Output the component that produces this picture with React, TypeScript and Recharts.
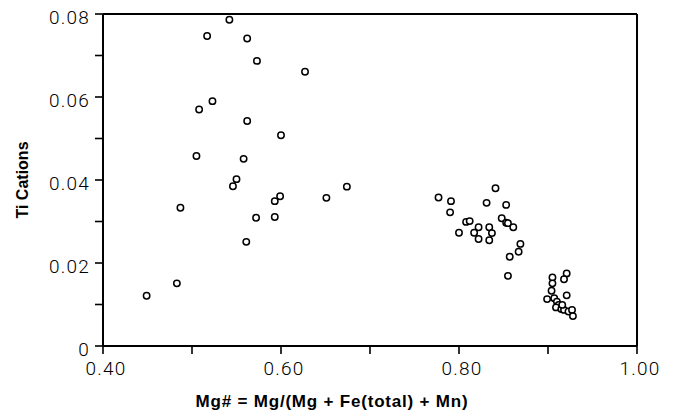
import {
  ReferenceLine,
  Scatter,
  ScatterChart,
  XAxis,
  YAxis,
  Label,
} from "recharts"

// Mg# = Mg/(Mg + Fe(total) + Mn)
const mgNumber = [
  0.542, 0.517, 0.562, 0.573, 0.627, 0.523, 0.508, 0.562, 0.6, 0.505, 0.558,
  0.55, 0.546, 0.599, 0.593, 0.651, 0.674, 0.487, 0.572, 0.593, 0.561, 0.483,
  0.449,
  0.777, 0.791, 0.79, 0.841, 0.831, 0.853, 0.808, 0.812, 0.8, 0.822, 0.817,
  0.822, 0.834, 0.837, 0.834, 0.848, 0.853, 0.855, 0.861, 0.869, 0.867, 0.857,
  0.855,
  0.905, 0.905, 0.904, 0.899, 0.921, 0.918, 0.921, 0.907, 0.91, 0.912, 0.909,
  0.915, 0.918, 0.923, 0.927, 0.928, 0.916,
]

// Ti cations
const tiCations = [
  0.0786, 0.0747, 0.0741, 0.0687, 0.0661, 0.059, 0.057, 0.0542, 0.0508, 0.0458,
  0.0451, 0.0402, 0.0385, 0.0361, 0.0349, 0.0357, 0.0384, 0.0333, 0.0309,
  0.0311, 0.0251, 0.0151, 0.0121,
  0.0358, 0.0349, 0.0322, 0.038, 0.0345, 0.034, 0.0299, 0.0301, 0.0273, 0.0286,
  0.0273, 0.0258, 0.0286, 0.0272, 0.0255, 0.0308, 0.0297, 0.0296, 0.0286,
  0.0246, 0.0227, 0.0215, 0.0169,
  0.0165, 0.0151, 0.0133, 0.0113, 0.0175, 0.0161, 0.0122, 0.0115, 0.0107,
  0.0099, 0.0093, 0.0089, 0.0087, 0.0083, 0.0087, 0.0072, 0.0099,
]

const xTicks = [0.4, 0.5, 0.6, 0.7, 0.8, 0.9, 1.0]
const xTickLabels = ["0.40", "", "0.60", "", "0.80", "", "1.00"]
const yTicks = [0, 0.01, 0.02, 0.03, 0.04, 0.05, 0.06, 0.07, 0.08]
const yTickLabels = ["0", "", "0.02", "", "0.04", "", "0.06", "", "0.08"]

const data = mgNumber.map((mg, i) => ({ mg, ti: tiCations[i] }))

const tickFont = {
  fontFamily: "Roboto, 'Liberation Sans', sans-serif",
  fontWeight: 300,
  fontSize: 19,
  letterSpacing: 1.2,
  fill: "#000",
}

const titleFont = {
  fontFamily: "'Liberation Sans', Arial, sans-serif",
  fontWeight: 700,
  fontSize: 16,
  fill: "#000",
}

function OpenCircle(props: any) {
  return (
    <circle
      cx={props.cx}
      cy={props.cy}
      r={3.2}
      fill="#fff"
      stroke="#000"
      strokeWidth={1.5}
    />
  )
}

export default function App() {
  // pull the chart over the body margin so it fills the whole window
  return (
    <div style={{ width: 673, height: 416, margin: "-8px 0 0 -8px", background: "#fff" }}>
      <ScatterChart
        width={673}
        height={416}
        margin={{ top: 14, right: 36, bottom: 8, left: 13 }}
      >
        <XAxis
          type="number"
          dataKey="mg"
          domain={[0.4, 1.0]}
          ticks={xTicks}
          interval={0}
          tickFormatter={(v, i) => xTickLabels[i]}
          height={62}
          tickSize={8}
          tickMargin={8}
          stroke="#000"
          axisLine={{ stroke: "#000", strokeWidth: 2 }}
          tickLine={{ stroke: "#000", strokeWidth: 1.6 }}
          tick={{ ...tickFont, dx: 3 }}
        >
          <Label
            value="Mg# = Mg/(Mg + Fe(total) + Mn)"
            position="insideBottom"
            offset={1}
            dx={-38}
            style={{ ...titleFont, fontSize: 17, letterSpacing: 0.8 }}
          />
        </XAxis>
        <YAxis
          type="number"
          dataKey="ti"
          domain={[0, 0.08]}
          ticks={yTicks}
          interval={0}
          tickFormatter={(v, i) => yTickLabels[i]}
          width={90}
          tickSize={8}
          tickMargin={5}
          stroke="#000"
          axisLine={{ stroke: "#000", strokeWidth: 2 }}
          tickLine={{ stroke: "#000", strokeWidth: 1.6 }}
          tick={{ ...tickFont, dy: 3 }}
        >
          <Label
            value="Ti Cations"
            angle={-90}
            position="insideLeft"
            offset={9}
            style={{ ...titleFont, textAnchor: "middle" }}
          />
        </YAxis>
        <ReferenceLine y={0.08} stroke="#000" strokeWidth={2} />
        <ReferenceLine x={1.0} stroke="#000" strokeWidth={2} />
        <Scatter data={data} shape={OpenCircle} isAnimationActive={false} />
      </ScatterChart>
    </div>
  )
}
